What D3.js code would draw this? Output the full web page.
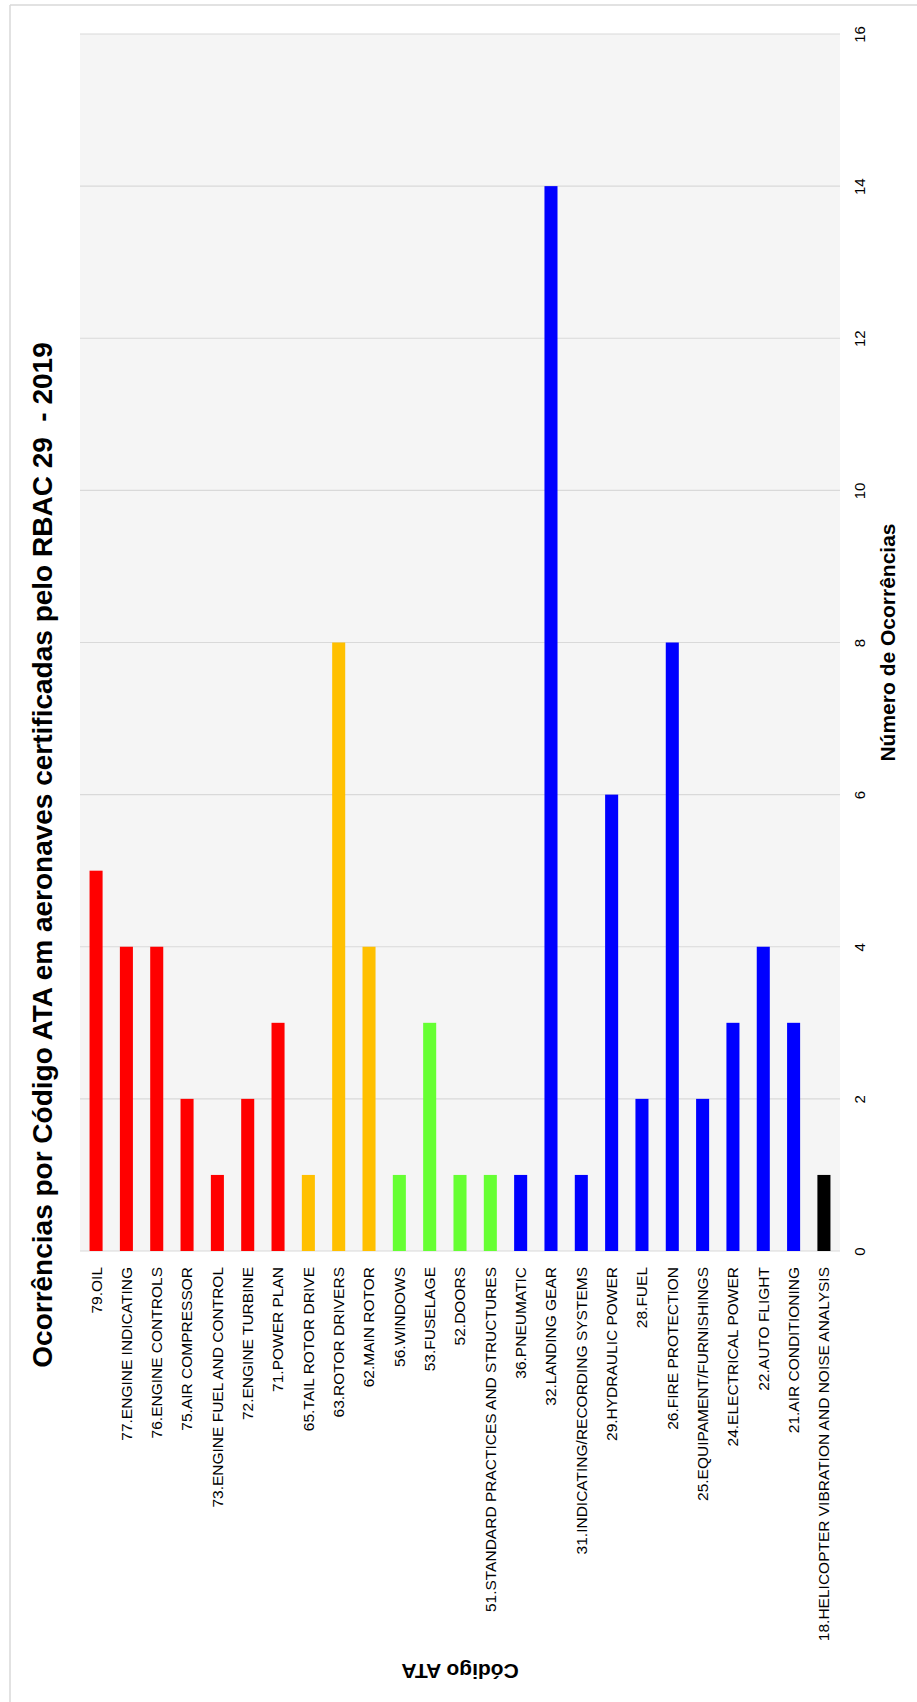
<!DOCTYPE html>
<html lang="pt">
<head>
<meta charset="utf-8">
<title>Ocorrências por Código ATA</title>
<script src="https://d3js.org/d3.v7.min.js"></script>
<style>
  body { margin: 0; background: #fff; }
  text { font-family: "Liberation Sans", Arial, sans-serif; }
</style>
</head>
<body>
<script>
// data (left to right)
var categories = [
  "79.OIL", "77.ENGINE INDICATING", "76.ENGINE CONTROLS", "75.AIR COMPRESSOR",
  "73.ENGINE FUEL AND CONTROL", "72.ENGINE TURBINE", "71.POWER PLAN",
  "65.TAIL ROTOR DRIVE", "63.ROTOR DRIVERS", "62.MAIN ROTOR",
  "56.WINDOWS", "53.FUSELAGE", "52.DOORS", "51.STANDARD PRACTICES AND STRUCTURES",
  "36.PNEUMATIC", "32.LANDING GEAR", "31.INDICATING/RECORDING SYSTEMS",
  "29.HYDRAULIC POWER", "28.FUEL", "26.FIRE PROTECTION", "25.EQUIPAMENT/FURNISHINGS",
  "24.ELECTRICAL POWER", "22.AUTO FLIGHT", "21.AIR CONDITIONING",
  "18.HELICOPTER VIBRATION AND NOISE ANALYSIS"
];
var values = [5, 4, 4, 2, 1, 2, 3, 1, 8, 4, 1, 3, 1, 1, 1, 14, 1, 6, 2, 8, 2, 3, 4, 3, 1];
var groups = ["motor", "motor", "motor", "motor", "motor", "motor", "motor",
  "rotor", "rotor", "rotor",
  "estrutura", "estrutura", "estrutura", "estrutura",
  "sistemas", "sistemas", "sistemas", "sistemas", "sistemas", "sistemas",
  "sistemas", "sistemas", "sistemas", "sistemas",
  "outros"];
var groupNames = ["motor", "rotor", "estrutura", "sistemas", "outros"];
var groupColors = ["#ff0000", "#ffc000", "#66ff33", "#0000ff", "#000000"];
var valueTicks = [0, 2, 4, 6, 8, 10, 12, 14, 16];

var W = 917, H = 1702;
// plot box (don't use "top" as a global, it's window.top)
var pLeft = 80, pRight = 840, pTop = 34, pBottom = 1251;

var svg = d3.select("body").append("svg").attr("width", W).attr("height", H);

// chart frame (only top and left edges fall inside the picture)
svg.append("line").attr("x1", 10).attr("x2", W).attr("y1", 5).attr("y2", 5)
  .attr("stroke", "#d9d9d9").attr("stroke-width", 1.5);
svg.append("line").attr("x1", 10).attr("x2", 10).attr("y1", 5).attr("y2", H)
  .attr("stroke", "#d9d9d9").attr("stroke-width", 1.5);

var x = d3.scaleBand().domain(categories).range([pLeft, pRight])
  .paddingInner(0.57).paddingOuter(0.315);
var y = d3.scaleLinear().domain([0, 16]).range([pBottom, pTop]);
var color = d3.scaleOrdinal().domain(groupNames).range(groupColors);

svg.append("rect")
  .attr("x", pLeft).attr("y", pTop)
  .attr("width", pRight - pLeft).attr("height", pBottom - pTop)
  .attr("fill", "#f5f5f5");

// gridlines
svg.selectAll(".grid").data(valueTicks).enter().append("line")
  .attr("class", "grid")
  .attr("x1", pLeft).attr("x2", pRight)
  .attr("y1", function(d) { return y(d); })
  .attr("y2", function(d) { return y(d); })
  .attr("stroke", "#d9d9d9").attr("stroke-width", 1.2);

// bars
svg.selectAll(".bar").data(values).enter().append("rect")
  .attr("class", "bar")
  .attr("x", function(d, i) { return x(categories[i]); })
  .attr("width", x.bandwidth())
  .attr("y", function(d) { return y(d); })
  .attr("height", function(d) { return y(0) - y(d); })
  .attr("fill", function(d, i) { return color(groups[i]); });

// value axis (right side, labels turned)
var yAxis = svg.append("g")
  .attr("transform", "translate(" + pRight + ",0)")
  .call(d3.axisRight(y).tickValues(valueTicks).tickSize(0));
yAxis.select(".domain").remove();
yAxis.selectAll("text")
  .attr("x", 0).attr("dy", "0.35em")
  .attr("text-anchor", "middle")
  .attr("transform", "translate(20,0) rotate(-90)")
  .attr("fill", "#000")
  .style("font-size", "15px");

// category axis
var xAxis = svg.append("g")
  .attr("transform", "translate(0," + pBottom + ")")
  .call(d3.axisBottom(x).tickSize(0));
xAxis.select(".domain").remove();
xAxis.selectAll("text")
  .attr("y", 0).attr("x", -16).attr("dy", "0.35em")
  .attr("text-anchor", "end")
  .attr("transform", "rotate(-90)")
  .attr("fill", "#000")
  .style("font-size", "15.5px");

// titles
svg.append("text")
  .attr("transform", "translate(52,855) rotate(-90)")
  .attr("text-anchor", "middle")
  .style("font-size", "28px").style("font-weight", "bold")
  .attr("xml:space", "preserve")
  .text("Ocorrências por Código ATA em aeronaves certificadas pelo RBAC 29  - 2019");

svg.append("text")
  .attr("transform", "translate(895," + ((pTop + pBottom) / 2) + ") rotate(-90)")
  .attr("text-anchor", "middle")
  .style("font-size", "21px").style("font-weight", "bold")
  .text("Número de Ocorrências");

svg.append("text")
  .attr("transform", "translate(" + ((pLeft + pRight) / 2) + ",1664) rotate(180)")
  .attr("text-anchor", "middle")
  .style("font-size", "21px").style("font-weight", "bold")
  .text("Código ATA");
</script>
</body>
</html>
